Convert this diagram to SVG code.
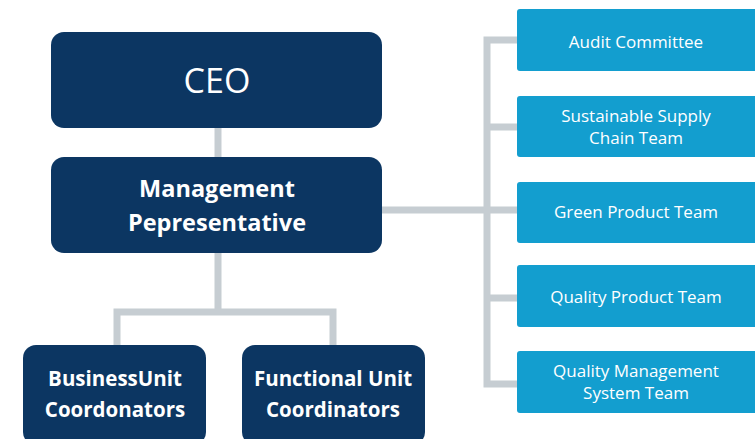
<svg xmlns="http://www.w3.org/2000/svg" width="755" height="439" viewBox="0 0 755 439">
<style>
.dk{fill:#0c3662}
.lt{fill:#139ecf}
.ln{stroke:#c6cdd2;stroke-width:7;fill:none}
.t{font-family:"Open Sans","Liberation Sans",sans-serif;fill:#fff;text-anchor:middle}
.b{font-weight:bold}
.m{font-size:23.5px}
.u{font-size:20.5px}
.s{font-size:17px}
.c{font-size:34px}
</style>
<rect width="755" height="439" fill="#fff"/>
<g id="connectors">
<path class="ln" d="M218 128V157"/>
<path class="ln" d="M218 253V312M117 345V312H333V345"/>
<path class="ln" d="M382 210H487M517 40H487V384H517M487 127H517M487 210H517M487 298H517"/>
</g>
<g id="ceo"><rect class="dk" x="51" y="32" width="331" height="96" rx="13"/><text class="t c" x="217" y="93">CEO</text></g>
<g id="mgmt"><rect class="dk" x="51" y="157" width="331" height="96" rx="13"/><text class="t b m" x="217" y="197">Management</text><text class="t b m" x="217" y="231">Pepresentative</text></g>
<g id="bu"><rect class="dk" x="23" y="345" width="183" height="100" rx="13"/><text class="t b u" x="115" y="386">BusinessUnit</text><text class="t b u" x="115" y="417">Coordonators</text></g>
<g id="fu"><rect class="dk" x="242" y="345" width="183" height="100" rx="13"/><text class="t b u" x="333" y="386">Functional Unit</text><text class="t b u" x="333" y="417">Coordinators</text></g>
<g id="audit"><rect class="lt" x="517" y="9" width="242" height="62" rx="3"/><text class="t s" x="636" y="48">Audit Committee</text></g>
<g id="ssc"><rect class="lt" x="517" y="96" width="242" height="61" rx="3"/><text class="t s" x="636" y="122">Sustainable Supply</text><text class="t s" x="636" y="144">Chain Team</text></g>
<g id="green"><rect class="lt" x="517" y="182" width="242" height="61" rx="3"/><text class="t s" x="636" y="218">Green Product Team</text></g>
<g id="qp"><rect class="lt" x="517" y="265" width="242" height="62" rx="3"/><text class="t s" x="636" y="303">Quality Product Team</text></g>
<g id="qms"><rect class="lt" x="517" y="351" width="242" height="62" rx="3"/><text class="t s" x="636" y="377">Quality Management</text><text class="t s" x="636" y="399">System Team</text></g>
</svg>
